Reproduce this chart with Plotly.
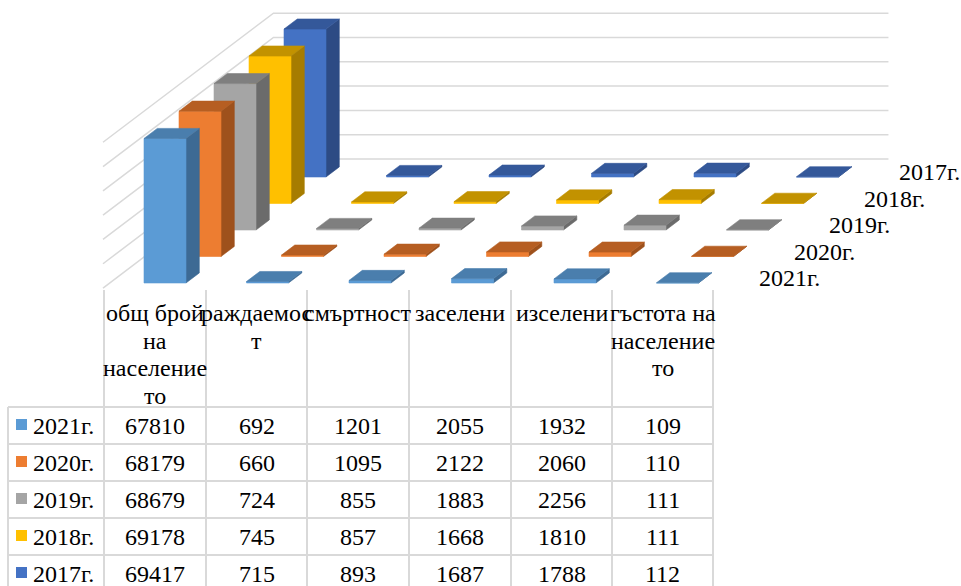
import plotly.graph_objects as go

# ---------------- data ----------------
years = ["2021г.", "2020г.", "2019г.", "2018г.", "2017г."]
categories = [
    "общ брой\nна\nнаселение\nто",
    "раждаемос\nт",
    "смъртност",
    "заселени",
    "изселени",
    "гъстота на\nнаселение\nто",
]
v2021 = [67810, 692, 1201, 2055, 1932, 109]
v2020 = [68179, 660, 1095, 2122, 2060, 110]
v2019 = [68679, 724, 855, 1883, 2256, 111]
v2018 = [69178, 745, 857, 1668, 1810, 111]
v2017 = [69417, 715, 893, 1687, 1788, 112]
series = [v2021, v2020, v2019, v2018, v2017]

# ---------------- styles ----------------
front_col = ["#5B9BD5", "#ED7D31", "#A5A5A5", "#FFC000", "#4472C4"]
top_col = ["#4A7EAD", "#B65E22", "#7F7F7F", "#C29200", "#34589A"]
side_col = ["#3D6A94", "#9E511C", "#6B6B6B", "#A67C00", "#2D4B84"]
GRID = "#D9D9D9"
FONT = "Liberation Serif, Times New Roman, serif"
FS = 24

W, H = 961, 586
CAT_PX = 102.5           # pixels per category slot
X0_PX = 113.75           # pixel x where slot 0 starts (front row)
FLOOR_PX = 283           # pixel y of the front row floor
VPP = 68500 / 146        # value units per pixel
ROW_DX = 35 / CAT_PX     # depth shift per series row (category units)
ROW_DY = 26.5 * VPP      # depth shift per series row (value units)
BAR_W = 42 / CAT_PX
BAR_D = 0.38             # bar depth in rows
GRID_STEP = 11400
N_GRID = 6
X_L, X_R = -0.04, 5.96
D_F, D_B = -0.19, 4.68


def P(c, d, v):
    return c + d * ROW_DX, v + d * ROW_DY


fig = go.Figure()

# walls (gridlines)
gx, gy = [], []
for k in range(N_GRID + 1):
    g = k * GRID_STEP
    for pt in (P(X_L, D_F, g), P(X_L, D_B, g), P(X_R, D_B, g)):
        gx.append(pt[0]); gy.append(pt[1])
    gx.append(None); gy.append(None)
fig.add_trace(go.Scatter(x=gx, y=gy, mode="lines", line=dict(color=GRID, width=1.5),
                         hoverinfo="skip", showlegend=False))

# bars, back row first
for d in range(len(series) - 1, -1, -1):
    vals = series[d]
    faces = {"front": ([], []), "top": ([], []), "side": ([], [])}
    for i, v in enumerate(vals):
        x0 = i + 0.5 - BAR_W / 2
        x1 = x0 + BAR_W
        polys = {
            "front": [P(x0, d, 0), P(x1, d, 0), P(x1, d, v), P(x0, d, v)],
            "top": [P(x0, d, v), P(x1, d, v), P(x1, d + BAR_D, v), P(x0, d + BAR_D, v)],
            "side": [P(x1, d, 0), P(x1, d + BAR_D, 0), P(x1, d + BAR_D, v), P(x1, d, v)],
        }
        for name, poly in polys.items():
            xs, ys = faces[name]
            for pt in poly + [poly[0]]:
                xs.append(pt[0]); ys.append(pt[1])
            xs.append(None); ys.append(None)
    for name, col in (("side", side_col[d]), ("front", front_col[d]), ("top", top_col[d])):
        xs, ys = faces[name]
        fig.add_trace(go.Scatter(x=xs, y=ys, mode="lines", fill="toself", fillcolor=col,
                                 line=dict(color=col, width=0.6), hoverinfo="skip",
                                 showlegend=False))

annotations = []
# depth axis labels
for d, yr in enumerate(years):
    x, y = P(6.276, d, 5 * VPP)
    annotations.append(dict(x=x, y=y, xref="x", yref="y", text=yr, showarrow=False,
                            xanchor="left", yanchor="middle",
                            font=dict(family=FONT, size=FS, color="black")))

# ---------------- data table ----------------
def px(x):
    return x / W


def py(y):
    return 1 - y / H


col_edges = [104, 206, 307, 409, 511, 612, 713]
row_edges = [407, 444, 481, 518, 555, 592]
TBL_TOP = 290
LEFT = 8
shapes = []
for xe in col_edges:
    shapes.append(dict(type="line", xref="paper", yref="paper", x0=px(xe), x1=px(xe),
                       y0=py(TBL_TOP), y1=py(600), line=dict(color=GRID, width=2)))
shapes.append(dict(type="line", xref="paper", yref="paper", x0=px(LEFT), x1=px(LEFT),
                   y0=py(row_edges[0]), y1=py(600), line=dict(color=GRID, width=2)))
for ye in row_edges:
    shapes.append(dict(type="line", xref="paper", yref="paper", x0=px(LEFT), x1=px(col_edges[-1]),
                       y0=py(ye), y1=py(ye), line=dict(color=GRID, width=2)))

# header
LINE_H = 27.5
for j, cat in enumerate(categories):
    cx = (col_edges[j] + col_edges[j + 1]) / 2
    for li, line in enumerate(cat.split("\n")):
        annotations.append(dict(x=px(cx), y=py(313 + li * LINE_H), xref="paper", yref="paper",
                                text=line, showarrow=False, xanchor="center", yanchor="middle",
                                font=dict(family=FONT, size=FS, color="black")))
# rows
for r, yr in enumerate(years):
    cy = (row_edges[r] + row_edges[r + 1]) / 2
    shapes.append(dict(type="rect", xref="paper", yref="paper", x0=px(16), x1=px(27),
                       y0=py(cy - 6.5), y1=py(cy + 4.5), fillcolor=front_col[r],
                       line=dict(width=0)))
    annotations.append(dict(x=px(31), y=py(cy), xref="paper", yref="paper", text=yr,
                            showarrow=False, xanchor="left", yanchor="middle",
                            font=dict(family=FONT, size=FS, color="black")))
    for j, v in enumerate(series[r]):
        cx = (col_edges[j] + col_edges[j + 1]) / 2
        annotations.append(dict(x=px(cx), y=py(cy), xref="paper", yref="paper", text=str(v),
                                showarrow=False, xanchor="center", yanchor="middle",
                                font=dict(family=FONT, size=FS, color="black")))

fig.update_layout(
    width=W, height=H, margin=dict(l=0, r=0, t=0, b=0),
    paper_bgcolor="white", plot_bgcolor="white",
    xaxis=dict(range=[-X0_PX / CAT_PX, (W - X0_PX) / CAT_PX], visible=False, fixedrange=True),
    yaxis=dict(range=[-(H - FLOOR_PX) * VPP, FLOOR_PX * VPP], visible=False, fixedrange=True),
    shapes=shapes, annotations=annotations, showlegend=False,
)
fig.write_html("out.html", config={"displayModeBar": False},
               post_script="document.body.style.margin='0px';document.body.style.overflow='hidden';")
